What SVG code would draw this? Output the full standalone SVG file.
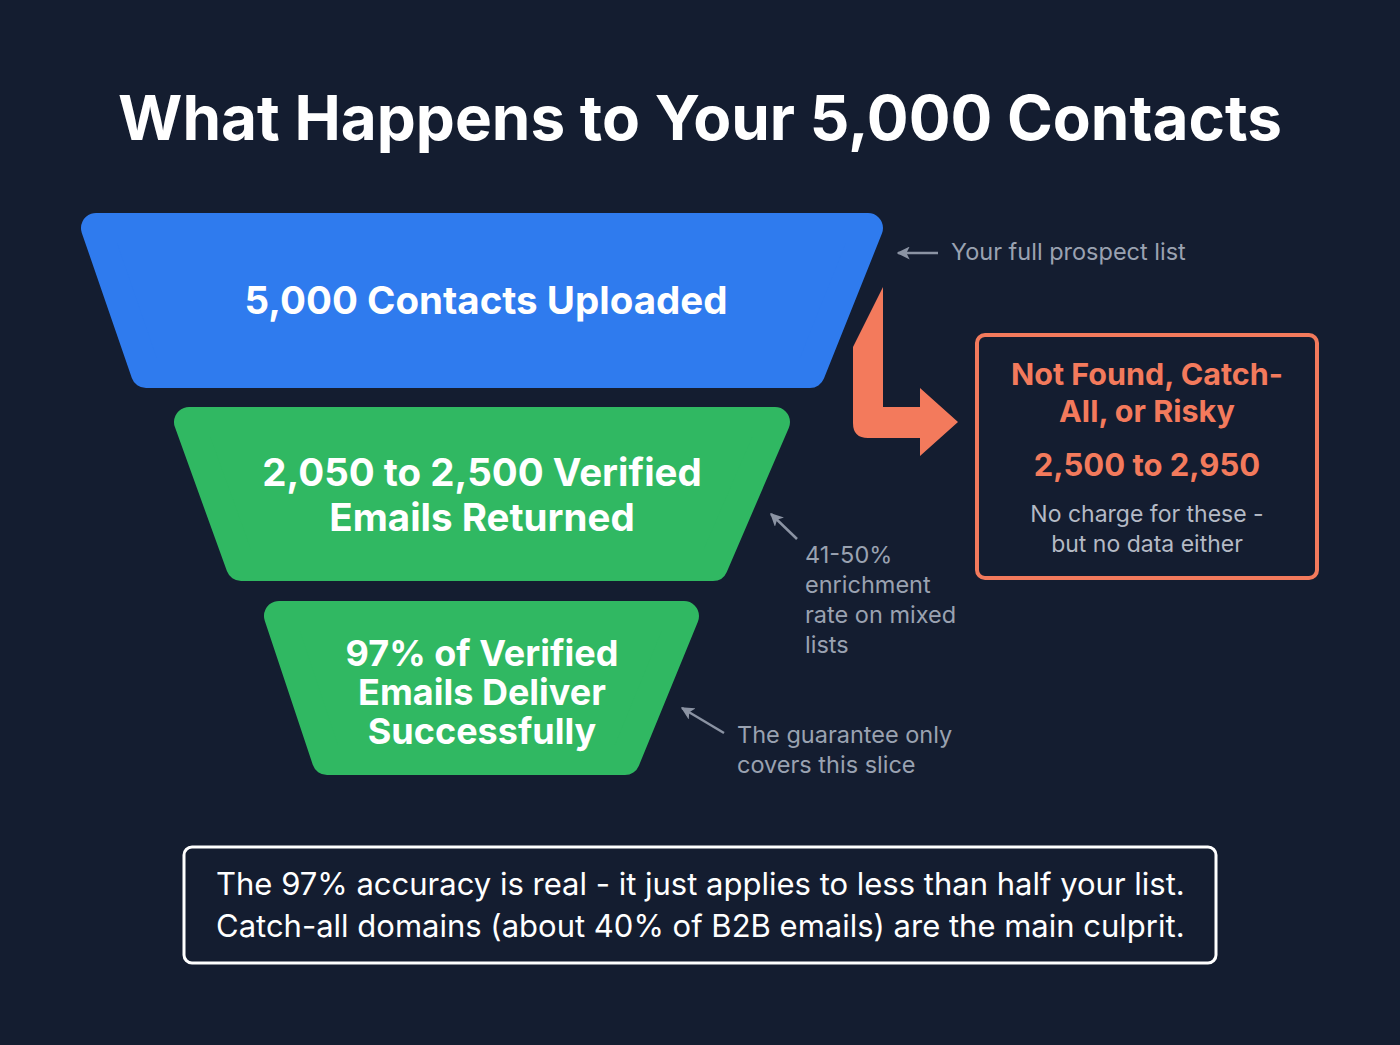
<svg xmlns="http://www.w3.org/2000/svg" width="1400" height="1045" viewBox="0 0 1400 1045">
<defs>
<style>
.bg{fill:#141d30}
.title{font-family:Inter,"Liberation Sans",sans-serif;font-weight:700;font-size:62px;fill:#ffffff;text-anchor:middle}
.stage{font-family:Inter,"Liberation Sans",sans-serif;font-weight:700;font-size:38.5px;fill:#ffffff;text-anchor:middle}
.stage.small{font-size:36px}
.note{font-family:Inter,"Liberation Sans",sans-serif;font-size:23.5px;fill:#9aa2b1}
.ored{font-family:Inter,"Liberation Sans",sans-serif;font-weight:700;fill:#f37a5c;text-anchor:middle}
.sub{font-family:Inter,"Liberation Sans",sans-serif;font-size:23px;fill:#b4bac5;text-anchor:middle}
.foot{font-family:Inter,"Liberation Sans",sans-serif;font-size:31px;fill:#ffffff}
.blue{fill:#2f7bee;stroke:#2f7bee;stroke-width:30;stroke-linejoin:round}
.green{fill:#30b862;stroke:#30b862;stroke-width:30;stroke-linejoin:round}
.pointer{stroke:#8b93a3;stroke-width:2.5;fill:none;marker-end:url(#ah)}
</style>
<marker id="ah" viewBox="0 0 10 10" refX="9" refY="5" markerWidth="13" markerHeight="13" orient="auto" markerUnits="userSpaceOnUse">
<path d="M0,0 L10,5 L0,10 L2.5,5 Z" fill="#8b93a3"/>
</marker>
</defs>
<rect class="bg" x="0" y="0" width="1400" height="1045"/>
<text class="title" x="700" y="140">What Happens to Your 5,000 Contacts</text>

<g id="stage-uploaded">
<polygon class="blue" points="96,228 868,228 810,373 146,373"/>
<text class="stage" x="486" y="314">5,000 Contacts Uploaded</text>
</g>

<g id="stage-verified">
<polygon class="green" points="189,422 775,422 713,566 241,566"/>
<text class="stage" x="482" y="486">2,050 to 2,500 Verified</text>
<text class="stage" x="482" y="531">Emails Returned</text>
</g>

<g id="stage-deliver">
<polygon class="green" points="279,616 684,616 625,760 327,760"/>
<text class="stage small" x="482" y="666">97% of Verified</text>
<text class="stage small" x="482" y="705">Emails Deliver</text>
<text class="stage small" x="482" y="744">Successfully</text>
</g>

<g id="not-found">
<rect x="977" y="335" width="340" height="243" rx="8" fill="none" stroke="#f37a5c" stroke-width="4"/>
<text class="ored" x="1147" y="385" font-size="30.5">Not Found, Catch-</text>
<text class="ored" x="1147" y="422" font-size="30.5">All, or Risky</text>
<text class="ored" x="1147" y="476" font-size="31">2,500 to 2,950</text>
<text class="sub" x="1147" y="522">No charge for these -</text>
<text class="sub" x="1147" y="552">but no data either</text>
</g>

<g id="annotations">
<text class="note" x="951" y="260">Your full prospect list</text>
<text class="note" x="805" y="563">41-50%</text>
<text class="note" x="805" y="593">enrichment</text>
<text class="note" x="805" y="623">rate on mixed</text>
<text class="note" x="805" y="653">lists</text>
<text class="note" x="737" y="743">The guarantee only</text>
<text class="note" x="737" y="773">covers this slice</text>
</g>

<g id="connectors">
<path d="M883,287 L883,407 L920,407 L920,388 L958,422 L920,456 L920,438 L868,438 Q853,438 853,423 L853,347 Z" fill="#f37a5c"/>
<line class="pointer" x1="938" y1="253" x2="898" y2="253"/>
<line class="pointer" x1="797" y1="539" x2="771" y2="514"/>
<line class="pointer" x1="724" y1="733" x2="682" y2="708"/>
</g>

<g id="footer">
<rect x="184" y="847" width="1032" height="116" rx="8" fill="none" stroke="#ffffff" stroke-width="3"/>
<text class="foot" x="216" y="895">The 97% accuracy is real - it just applies to less than half your list.</text>
<text class="foot" x="216" y="937">Catch-all domains (about 40% of B2B emails) are the main culprit.</text>
</g>
</svg>
